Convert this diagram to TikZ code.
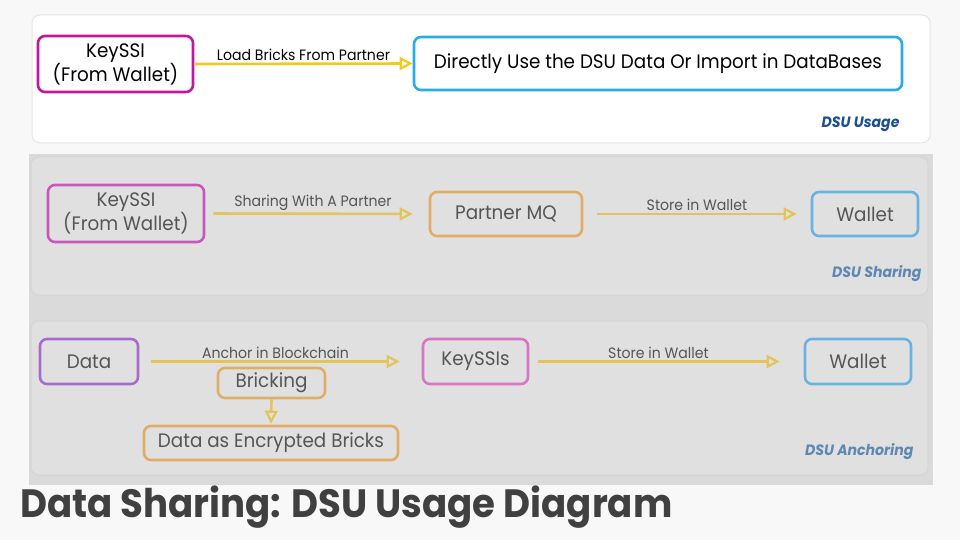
\documentclass[tikz,border=0pt]{standalone}
\usepackage{fontspec}
\setmainfont{Poppins}[FakeStretch=0.94]
\usetikzlibrary{arrows.meta}
\definecolor{page-bg}{HTML}{F8F8F8}
\definecolor{panel-gray}{HTML}{E0E0E0}
\definecolor{back-gray}{HTML}{DADADA}
\definecolor{panel-line}{HTML}{D4D4D4}
\definecolor{key-magenta}{HTML}{C2169F}
\definecolor{use-blue}{HTML}{2AAAE8}
\definecolor{flow-gold}{HTML}{F7C815}
\definecolor{tag-blue}{HTML}{1B4F8E}
\definecolor{soft-magenta}{HTML}{C558BA}
\definecolor{soft-purple}{HTML}{A86CCB}
\definecolor{soft-pink}{HTML}{D677C4}
\definecolor{soft-orange}{HTML}{E0AD68}
\definecolor{soft-blue}{HTML}{6AB3E0}
\definecolor{soft-gold}{HTML}{E2C45A}
\definecolor{soft-text}{HTML}{555555}
\definecolor{soft-tag}{HTML}{5E87B3}
\definecolor{title-gray}{HTML}{404040}

\begin{document}
\begin{tikzpicture}[x=1pt, y=-1pt,
      every node/.style={font=\fontsize{19.5}{24}\selectfont},
      box/.style={rounded corners=7pt, line width=2.6pt, align=center, inner sep=0pt},
      flow/.style={line width=2.6pt, -{Triangle[open, length=13pt, width=13pt, line width=2.2pt]}},
      lbl/.style={font=\fontsize{15}{17}\selectfont, above, inner sep=2pt},
      tag/.style={font=\fontsize{15}{17}\selectfont\bfseries\itshape, anchor=east}]
    \useasboundingbox[fill=page-bg] (0,0) rectangle (960,540);
    % panels
    \fill[white, draw=panel-line!60, line width=1pt, rounded corners=8pt] (32,15) rectangle (930,143);
    \fill[back-gray] (29,154) rectangle (933,485);
    \fill[panel-gray, draw=panel-line, line width=1pt, rounded corners=8pt] (31,157) rectangle (928,295);
    \fill[panel-gray, draw=panel-line, line width=1pt, rounded corners=8pt] (31,321) rectangle (928,475);

    % DSU usage
    \node[box, draw=key-magenta, minimum width=155pt, minimum height=56pt] (KS) at (115.5,64) {KeySSI\\(From Wallet)};
    \node[box, draw=use-blue, minimum width=488pt, minimum height=53pt] (DB) at (658,63.5) {Directly Use the DSU Data Or Import in DataBases};
    \draw[flow, draw=flow-gold] (KS.east) -- node[lbl, text=black] {Load Bricks From Partner} (DB.west);
    \node[tag, text=tag-blue] (TU) at (903,124) {DSU Usage};

    % DSU sharing
    \begin{scope}[text=soft-text]
    \node[box, draw=soft-magenta, minimum width=156pt, minimum height=57pt] (KS2) at (126,213.5) {KeySSI\\(From Wallet)};
    \node[box, draw=soft-orange, minimum width=152pt, minimum height=44pt] (MQ) at (506,214) {Partner MQ};
    \node[box, draw=soft-blue, minimum width=106pt, minimum height=44pt] (W1) at (865,214) {Wallet};
    \end{scope}
    \draw[flow, draw=soft-gold, shorten <=8pt, shorten >=16pt] (KS2.east) -- node[lbl, text=soft-text, xshift=-4pt] {Sharing With A Partner} (MQ.west);
    \draw[flow, draw=soft-gold, shorten <=14pt, shorten >=14pt] (MQ.east) -- node[lbl, text=soft-text] {Store in Wallet} (W1.west);
    \node[tag, text=soft-tag] (TS) at (925,274) {DSU Sharing};

    % DSU anchoring
    \begin{scope}[text=soft-text]
    \node[box, draw=soft-purple, minimum width=98pt, minimum height=45pt] (DA) at (89,361.5) {Data};
    \node[box, draw=soft-pink, minimum width=105pt, minimum height=45pt] (KS3) at (475.5,361.5) {KeySSIs};
    \node[box, draw=soft-blue, minimum width=106pt, minimum height=45pt] (W2) at (858,361.5) {Wallet};
    \node[box, draw=soft-orange, minimum width=107pt, minimum height=30pt] (BR) at (271.5,383) {Bricking};
    \node[box, draw=soft-orange, minimum width=254pt, minimum height=34pt] (EB) at (271,443) {Data as Encrypted Bricks};
    \end{scope}
    \draw[flow, draw=soft-gold, shorten <=12pt, shorten >=22pt] (DA.east) -- node[lbl, text=soft-text, xshift=-5pt] {Anchor in Blockchain} (KS3.west);
    \draw[flow, draw=soft-gold, shorten <=9pt, shorten >=24pt] (KS3.east) -- node[lbl, text=soft-text, xshift=-8pt] {Store in Wallet} (W2.west);
    \draw[flow, draw=soft-gold, shorten >=1pt] (BR.south) -- (EB.north);
    \node[tag, text=soft-tag] (TA) at (917,452) {DSU Anchoring};

    % title
    \node[anchor=base west, inner sep=0pt, text=title-gray, font=\fontsize{39.5}{44}\selectfont\bfseries] (TT) at (20,517) {Data Sharing: DSU Usage Diagram};
  \end{tikzpicture}
\end{document}
